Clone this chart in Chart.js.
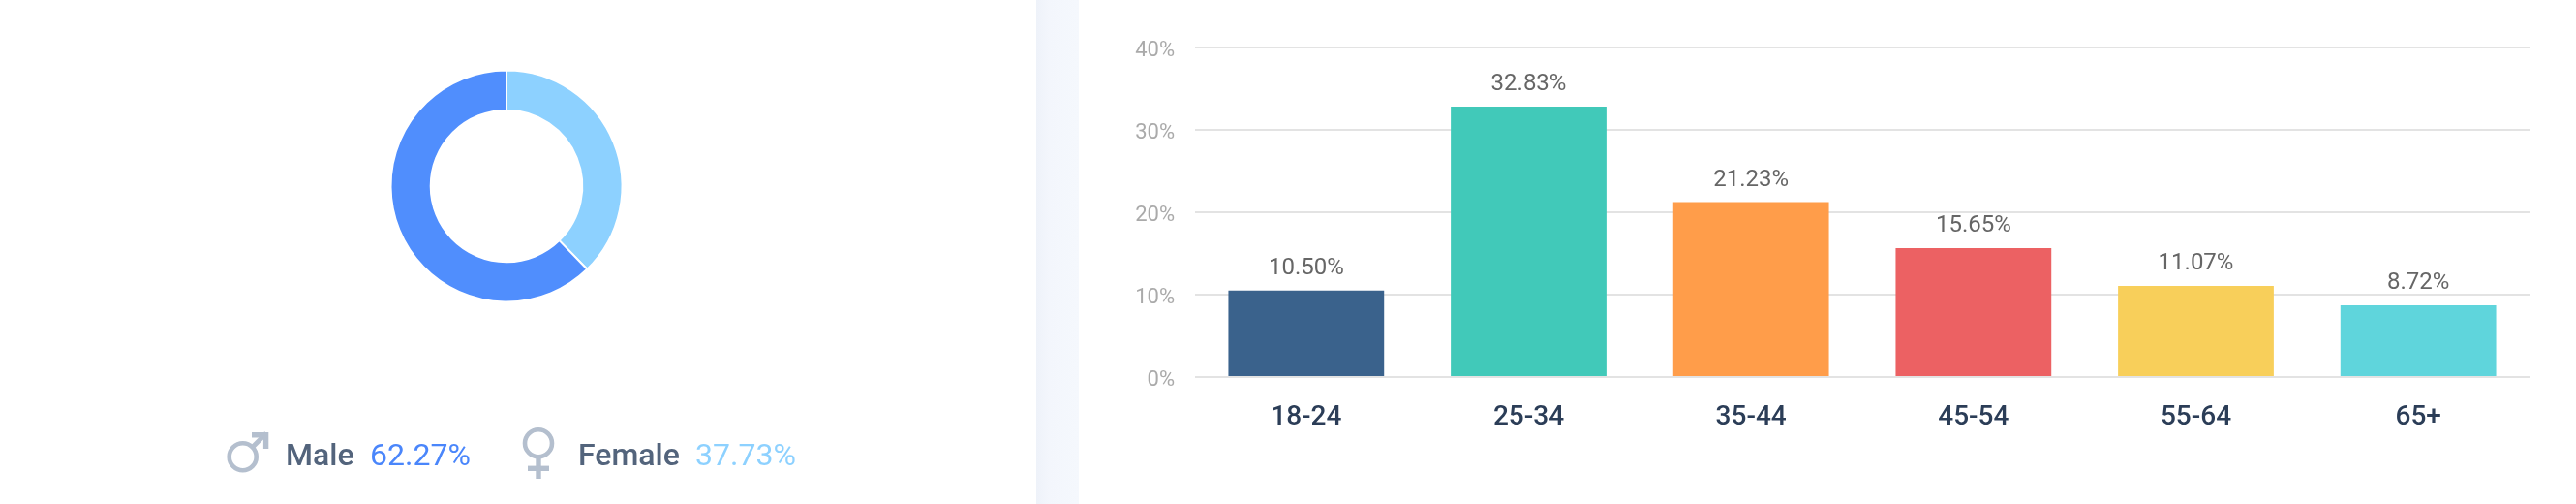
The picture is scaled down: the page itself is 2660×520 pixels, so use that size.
<!DOCTYPE html>
<html>
<head>
<meta charset="utf-8">
<title>Audience</title>
<script src="https://cdn.jsdelivr.net/npm/chart.js@4/dist/chart.umd.min.js"></script>
<style>
  html,body{margin:0;padding:0;background:#fff;}
  body{position:relative;width:2660px;height:520px;overflow:hidden;font-family:Roboto,sans-serif;}
  #gutter{position:absolute;left:1070px;top:0;width:44px;height:520px;background:linear-gradient(to right,#eef2f9,#f3f6fc 30%,#f5f8fd);}
  #donutBox{position:absolute;left:393px;top:62px;width:260px;height:260px;}
  #barBox{position:absolute;left:1114px;top:0;width:1546px;height:520px;}
  #icons{position:absolute;left:0;top:0;}
  .lg{position:absolute;top:451px;line-height:36px;font-size:32px;white-space:nowrap;}
  .name{color:#53647c;font-weight:500;}
</style>
</head>
<body>
<div id="gutter"></div>
<div id="donutBox"><canvas id="donut"></canvas></div>
<div id="barBox"><canvas id="bars"></canvas></div>

<svg id="icons" width="1000" height="520" fill="none" stroke="#b4bfce">
  <circle cx="250.7" cy="471.3" r="14" stroke-width="4.6"/>
  <path d="M260.5 461.5L275 447" stroke-width="5"/>
  <path d="M260 448.7H274.6V463" stroke-width="5.4"/>
  <circle cx="556" cy="457.3" r="14" stroke-width="4.6"/>
  <path d="M556 473V494" stroke-width="5.4"/>
  <path d="M545 483.3H567" stroke-width="5.4"/>
</svg>

<span class="lg name" style="left:295px;" id="lgMale"></span>
<span class="lg" style="left:382px;color:#4a86fb;" id="lgMaleVal"></span>
<span class="lg name" style="left:597px;" id="lgFemale"></span>
<span class="lg" style="left:718px;color:#8dd1ff;" id="lgFemaleVal"></span>

<script>
const genderLabels=["Female","Male"];
const genderValues=[37.73,62.27];
const genderColors=["#8dd1ff","#508efd"];

const ageLabels=["18-24","25-34","35-44","45-54","55-64","65+"];
const ageValues=[10.50,32.83,21.23,15.65,11.07,8.72];
const ageColors=["#3a628c","#41c9b9","#ff9d4a","#ec6163","#f8cf5a","#5fd5dc"];

document.getElementById("lgMale").textContent=genderLabels[1];
document.getElementById("lgMaleVal").textContent=genderValues[1].toFixed(2)+"%";
document.getElementById("lgFemale").textContent=genderLabels[0];
document.getElementById("lgFemaleVal").textContent=genderValues[0].toFixed(2)+"%";

Chart.defaults.font.family="Roboto, sans-serif";
Chart.defaults.animation=false;

new Chart(document.getElementById("donut"),{
  type:"doughnut",
  data:{
    labels:genderLabels,
    datasets:[{data:genderValues,backgroundColor:genderColors,borderColor:"#fff",borderWidth:2}]
  },
  options:{
    responsive:true,
    maintainAspectRatio:false,
    radius:119.5,
    cutout:84.5,
    plugins:{legend:{display:false},tooltip:{enabled:false}}
  }
});

// value text above each bar
const barValues={
  id:"barValues",
  afterDatasetsDraw(chart){
    const ctx=chart.ctx;
    const bars=chart.getDatasetMeta(0).data;
    ctx.save();
    ctx.font="24px Roboto, sans-serif";
    ctx.fillStyle="#666";
    ctx.textAlign="center";
    ctx.textBaseline="alphabetic";
    bars.forEach(function(bar,i){
      ctx.fillText(ageValues[i].toFixed(2)+"%",bar.x,bar.y-17);
    });
    ctx.restore();
  }
};

new Chart(document.getElementById("bars"),{
  type:"bar",
  data:{
    labels:ageLabels,
    datasets:[{data:ageValues,backgroundColor:ageColors,barPercentage:0.7,categoryPercentage:1}]
  },
  plugins:[barValues],
  options:{
    responsive:true,
    maintainAspectRatio:false,
    layout:{padding:{top:49,right:48,left:0,bottom:0}},
    plugins:{legend:{display:false},tooltip:{enabled:false}},
    scales:{
      x:{
        grid:{display:false},
        border:{display:false},
        ticks:{color:"#2b3d57",font:{size:28,weight:"500"},padding:17,maxRotation:0},
        afterFit(scale){scale.height=131;}
      },
      y:{
        min:0,
        max:40,
        grid:{color:"#e3e3e3",lineWidth:2,drawTicks:false},
        border:{display:false},
        ticks:{
          stepSize:10,
          color:"#aaa",
          font:{size:22},
          padding:21,
          labelOffset:3,
          callback:function(v){return v+"%";}
        },
        afterFit(scale){scale.width=120;}
      }
    }
  }
});
</script>
</body>
</html>
